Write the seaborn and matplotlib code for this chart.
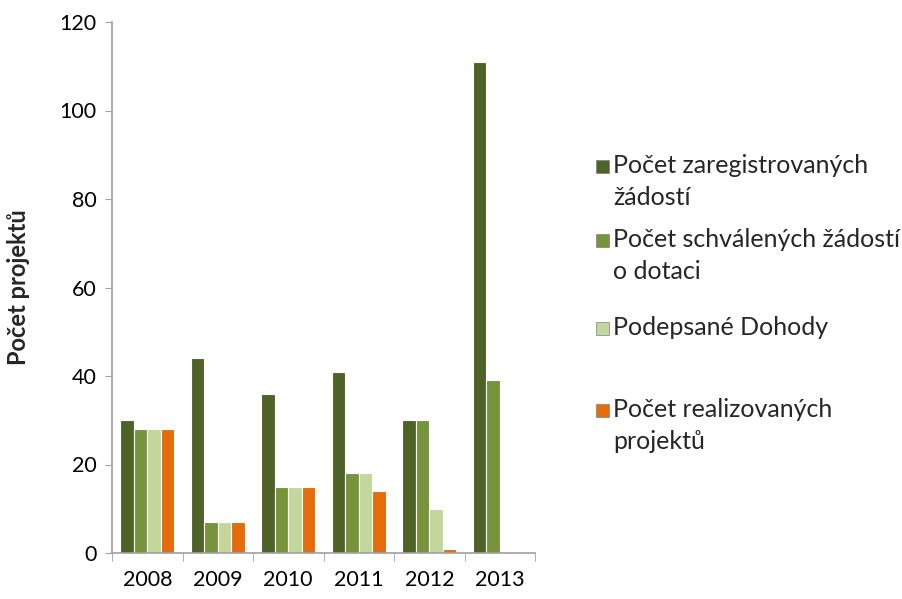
import numpy as np
import pandas as pd
import matplotlib
matplotlib.use('Agg')
import matplotlib.pyplot as plt
from matplotlib.patches import Rectangle
import seaborn as sns

# Data
roky = ['2008', '2009', '2010', '2011', '2012', '2013']
zaregistrovane = [30, 44, 36, 41, 30, 111]
schvalene = [28, 7, 15, 18, 30, 39]
dohody = [28, 7, 15, 18, 10, 0]
realizovane = [28, 7, 15, 14, 1, 0]

serie = ['Počet zaregistrovaných\nžádostí',
         'Počet schválených žádostí\no dotaci',
         'Podepsané Dohody',
         'Počet realizovaných\nprojektů']
barvy = ['#4f6228', '#77933c', '#c3d69b', '#e46c0a']

df = pd.DataFrame({
    'rok': roky * 4,
    'hodnota': zaregistrovane + schvalene + dohody + realizovane,
    'serie': np.repeat(serie, len(roky)),
})

sns.set_style('white')
plt.rcParams['font.family'] = ['Lato', 'DejaVu Sans']

W, H = 902, 599
fig = plt.figure(figsize=(W / 100, H / 100), dpi=100)
ax = fig.add_axes([112 / W, 1 - 553 / H, 423 / W, 531 / H])

sns.barplot(data=df, x='rok', y='hodnota', hue='serie', palette=barvy,
            saturation=1, width=0.76, edgecolor='white', linewidth=0.8,
            legend=False, ax=ax)

ax.set_xlim(-0.5, 5.5)
ax.set_ylim(0, 120)
ax.set_yticks(range(0, 121, 20))
ax.set_xlabel('')
ax.set_ylabel('Počet projektů', fontsize=17, fontweight='bold')
ax.yaxis.set_label_coords(-0.194, 0.5)
ax.tick_params(axis='both', labelsize=15.5, colors='black')
ax.tick_params(axis='y', length=5, color='#a0a0a0', direction='out', left=True, pad=6)
ax.tick_params(axis='x', which='major', length=0, pad=12)
ax.set_xticks(np.arange(-0.5, 6, 1), minor=True)
ax.tick_params(axis='x', which='minor', length=6, color='#a0a0a0', bottom=True)

sns.despine(ax=ax)
for s in ['left', 'bottom']:
    ax.spines[s].set_color('#a0a0a0')
    ax.spines[s].set_linewidth(1.2)

# legend on the right, drawn like the Excel one (marker next to first line)
baselines = [173, 247, 335, 417]
for label, color, yb in zip(serie, barvy, baselines):
    fig.add_artist(Rectangle((596 / W, 1 - yb / H), 13 / W, 13 / H,
                             transform=fig.transFigure, facecolor=color,
                             edgecolor='#7f7f7f', linewidth=0.5))
    for i, line in enumerate(label.split('\n')):
        fig.text(613 / W, 1 - (yb + i * 32) / H, line, fontsize=18,
                 va='baseline', ha='left')

fig.savefig('out.png', dpi=100)
